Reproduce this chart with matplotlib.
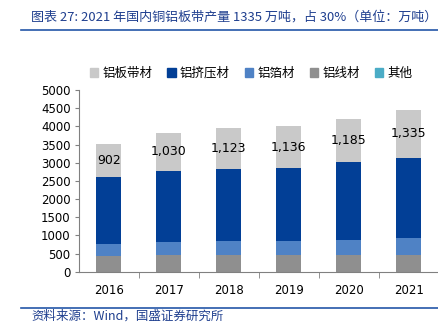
import matplotlib
matplotlib.use("Agg")
import matplotlib.pyplot as plt
from matplotlib.lines import Line2D
import numpy as np

plt.rcParams['font.family'] = ['Noto Sans CJK SC', 'DejaVu Sans']

years = ["2016", "2017", "2018", "2019", "2020", "2021"]
wire = [431, 449, 459, 449, 459, 459]          # 铝线材
foil = [331, 377, 394, 395, 413, 458]          # 铝箔材
extrusion = [1844, 1954, 1982, 2018, 2146, 2211]  # 铝挤压材
sheet = [902, 1030, 1123, 1136, 1185, 1335]    # 铝板带材
other = [0, 0, 0, 0, 0, 0]                     # 其他
sheet_labels = ["902", "1,030", "1,123", "1,136", "1,185", "1,335"]
yticks = [0, 500, 1000, 1500, 2000, 2500, 3000, 3500, 4000, 4500, 5000]

c_sheet = "#C9C9C9"
c_ext = "#023F96"
c_foil = "#4F82C5"
c_wire = "#8F8F8F"
c_other = "#4BACC6"
title_color = "#1F3F8F"

fig = plt.figure(figsize=(4.38, 3.31), dpi=100)
ax = fig.add_axes([0.180, 0.179, 0.822, 0.549])

x = np.arange(len(years))
w = 0.42
b0 = np.zeros(len(years))
ax.bar(x, wire, w, bottom=b0, color=c_wire, label="铝线材")
b1 = b0 + np.array(wire)
ax.bar(x, foil, w, bottom=b1, color=c_foil, label="铝箔材")
b2 = b1 + np.array(foil)
ax.bar(x, extrusion, w, bottom=b2, color=c_ext, label="铝挤压材")
b3 = b2 + np.array(extrusion)
ax.bar(x, sheet, w, bottom=b3, color=c_sheet, label="铝板带材")
b4 = b3 + np.array(sheet)
ax.bar(x, other, w, bottom=b4, color=c_other, label="其他")

for xi, base, v, lab in zip(x, b3, sheet, sheet_labels):
    ax.text(xi, base + v / 2, lab, ha="center", va="center", fontsize=9,
            family="DejaVu Sans", color="#000000")

ax.set_xlim(-0.5, len(years) - 0.5)
ax.set_ylim(0, 5000)
ax.set_yticks(yticks)
ax.set_yticklabels([str(t) for t in yticks], family="DejaVu Sans", fontsize=8.5)
ax.set_xticks(x)
ax.set_xticklabels(years, family="DejaVu Sans", fontsize=8.5)
ax.set_xticks(np.arange(0.5, len(years) - 0.5, 1.0), minor=True)
ax.tick_params(axis="x", which="major", length=0, pad=9)
ax.tick_params(axis="x", which="minor", length=4, color="#808080", direction="out")
ax.tick_params(axis="y", length=3, color="#808080", direction="out", pad=3)
for s in ["top", "right"]:
    ax.spines[s].set_visible(False)
ax.spines["left"].set_color("#808080")
ax.spines["bottom"].set_color("#808080")
ax.spines["left"].set_linewidth(0.8)
ax.spines["bottom"].set_linewidth(0.8)

# legend
handles = [
    plt.Rectangle((0, 0), 1, 1, color=c_sheet),
    plt.Rectangle((0, 0), 1, 1, color=c_ext),
    plt.Rectangle((0, 0), 1, 1, color=c_foil),
    plt.Rectangle((0, 0), 1, 1, color=c_wire),
    plt.Rectangle((0, 0), 1, 1, color=c_other),
]
labels = ["铝板带材", "铝挤压材", "铝箔材", "铝线材", "其他"]
fig.legend(handles, labels, loc="center", bbox_to_anchor=(0.573, 1 - 73 / 331), ncol=5,
           frameon=False, fontsize=9, handlelength=0.7, handleheight=0.7,
           handletextpad=0.3, columnspacing=1.2)

# title
fig.text(31 / 438, 1 - 17.5 / 331, "图表 27: 2021 年国内铜铝板带产量 1335 万吨，占 30%（单位：万吨）",
         ha="left", va="center", fontsize=9.4, color=title_color)
fig.add_artist(Line2D([21 / 438, 1.0], [1 - 29.5 / 331, 1 - 29.5 / 331],
                      transform=fig.transFigure, color="#2456A8", lw=1.2))
# footer
fig.add_artist(Line2D([21 / 438, 1.0], [1 - 307.5 / 331, 1 - 307.5 / 331],
                      transform=fig.transFigure, color="#2456A8", lw=1.2))
fig.text(31 / 438, 1 - 316 / 331, "资料来源：Wind，国盛证券研究所",
         ha="left", va="center", fontsize=9, color=title_color)

fig.savefig("out.png", dpi=100)
